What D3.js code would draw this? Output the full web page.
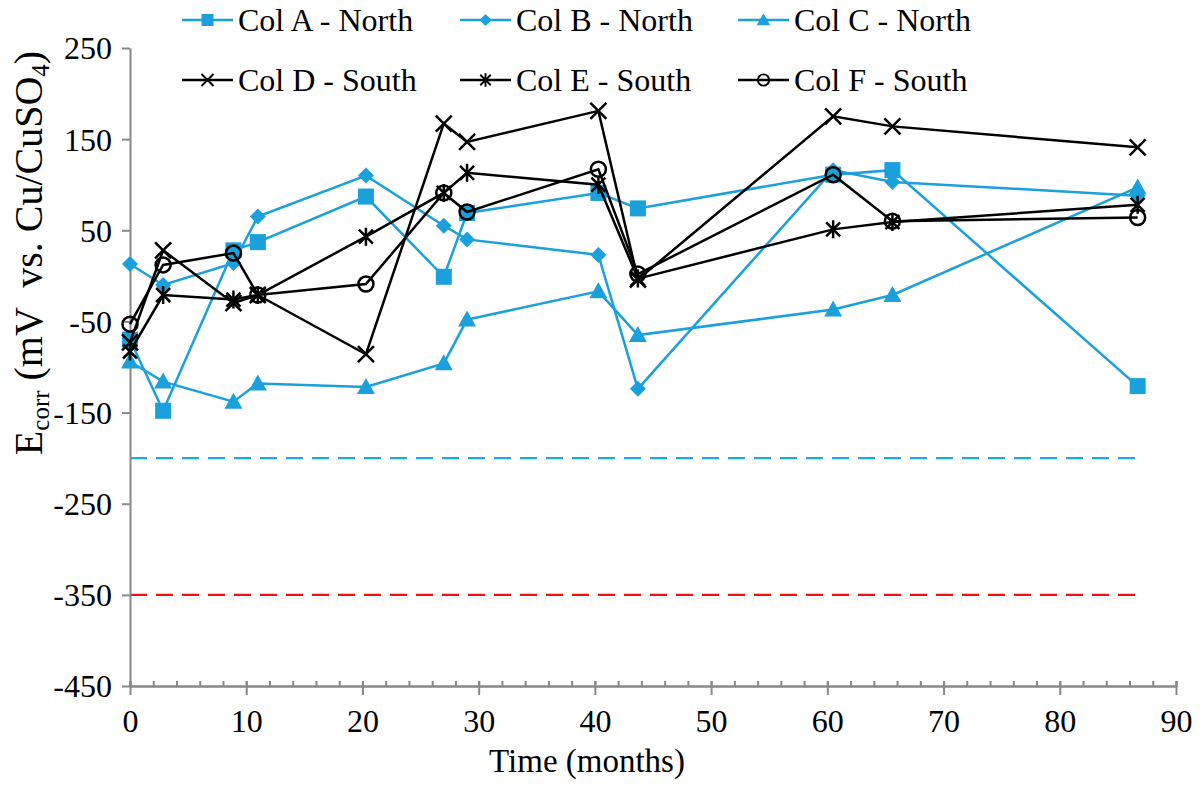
<!DOCTYPE html>
<html>
<head>
<meta charset="utf-8">
<script src="https://cdn.jsdelivr.net/npm/d3@7"></script>
<style>
  body { margin: 0; background: #fff; }
  svg { font-family: "Liberation Serif", "Times New Roman", serif; }
</style>
</head>
<body>
<svg id="chart" width="1203" height="804"></svg>
<script>
// data
var months = [0, 2.85, 8.9, 11, 20.3, 27, 29, 40.3, 43.7, 60.5, 65.6, 86.7];
var colA = [-70, -148, 28, 37, 87, -1, 69, 91, 74, 111, 116, -121];
var colB = [13, -10, 14, 65, 110, 55, 40, 23, -124, 116, 103, 88];
var colC = [-94, -116, -138, -118, -122, -96, -48, -17, -65, -37, -21, 97];
var colD = [-73, 28, -30, -21, -86, 167, 147, 181, -4, 175, 164, 141];
var colE = [-83, -21, -26, -21, 43, 91, 113, 100, -3, 51, 59, 78];
var colF = [-53, 12, 25, -21, -9, 91, 70, 117, 2, 111, 60, 64];
var seriesNames = ["Col A - North", "Col B - North", "Col C - North",
                   "Col D - South", "Col E - South", "Col F - South"];
var xTicks = [0, 10, 20, 30, 40, 50, 60, 70, 80, 90];
var yTicks = [250, 150, 50, -50, -150, -250, -350, -450];
var refLevels = [-200, -350];
var refEnd = 87;

var blue = "#1aa0db", black = "#000", gray = "#888";
var series = [
  {name: seriesNames[0], vals: colA, color: blue, marker: "square"},
  {name: seriesNames[1], vals: colB, color: blue, marker: "diamond"},
  {name: seriesNames[2], vals: colC, color: blue, marker: "triangle"},
  {name: seriesNames[3], vals: colD, color: black, marker: "x"},
  {name: seriesNames[4], vals: colE, color: black, marker: "star"},
  {name: seriesNames[5], vals: colF, color: black, marker: "circle"}
];

var svg = d3.select("#chart");
var x = d3.scaleLinear().domain([0, 90]).range([130, 1176]);
var y = d3.scaleLinear().domain([-450, 250]).range([686, 48]);

// reference dashed lines
svg.selectAll("line.ref").data(refLevels).enter().append("line")
  .attr("x1", x(0)).attr("x2", x(refEnd))
  .attr("y1", function(d) { return y(d); }).attr("y2", function(d) { return y(d); })
  .attr("stroke", function(d, i) { return i == 0 ? "#1aa9e6" : "#f01010"; })
  .attr("stroke-width", 2.2).attr("stroke-dasharray", "17,9");

// axes
var plain = function(d) { return String(d); };
var gx = svg.append("g").attr("transform", "translate(0," + y(-450) + ")");
gx.call(d3.axisBottom(x).tickValues(d3.range(0, 91, 2)).tickSize(-5).tickFormat(""));
var gx2 = svg.append("g").attr("transform", "translate(0," + y(-450) + ")");
gx2.call(d3.axisBottom(x).tickValues(xTicks).tickFormat(plain)
  .tickSizeInner(9).tickSizeOuter(0).tickPadding(14));
gx2.selectAll(".tick line").attr("y1", -5);

var gy = svg.append("g").attr("transform", "translate(" + x(0) + ",0)");
gy.call(d3.axisLeft(y).tickValues(yTicks).tickFormat(plain)
  .tickSizeInner(8).tickSizeOuter(0).tickPadding(10));

svg.selectAll(".domain, .tick line").attr("stroke", gray).attr("stroke-width", 2);
svg.selectAll(".tick text").attr("font-size", 32).attr("fill", "#000")
  .attr("font-family", "Liberation Serif, Times New Roman, serif");
gy.selectAll(".tick text").attr("dy", "0.34em");

// axis titles
svg.append("text").attr("x", 587).attr("y", 772).attr("text-anchor", "middle")
  .attr("font-size", 33).text("Time (months)");

var yt = svg.append("text").attr("transform", "translate(42,253) rotate(-90)")
  .attr("text-anchor", "middle").attr("font-size", 40).style("white-space", "pre");
yt.append("tspan").text("E");
yt.append("tspan").attr("font-size", 25).attr("dy", 7).text("corr");
yt.append("tspan").attr("dy", -7).text(" (mV  vs. Cu/CuSO");
yt.append("tspan").attr("font-size", 25).attr("dy", 7).text("4");
yt.append("tspan").attr("dy", -7).text(")");

// markers
function drawMarker(g, type, color) {
  if (type == "square") {
    g.append("rect").attr("x", -8).attr("y", -8).attr("width", 16).attr("height", 16)
      .attr("fill", color);
  } else if (type == "diamond") {
    g.append("path").attr("d", "M0,-8L8,0L0,8L-8,0Z").attr("fill", color);
  } else if (type == "triangle") {
    g.append("path").attr("d", "M0,-9L9,7L-9,7Z").attr("fill", color);
  } else if (type == "x") {
    g.append("path").attr("d", "M-8,-8L8,8M-8,8L8,-8").attr("stroke", color)
      .attr("stroke-width", 2.5).attr("fill", "none");
  } else if (type == "star") {
    g.append("path").attr("d", "M-7,-7L7,7M-7,7L7,-7M0,-9L0,9").attr("stroke", color)
      .attr("stroke-width", 2.5).attr("fill", "none");
  } else if (type == "circle") {
    g.append("circle").attr("r", 7.5).attr("fill", "none").attr("stroke", color)
      .attr("stroke-width", 2.5);
  }
}

var line = d3.line()
  .x(function(d) { return x(d[0]); })
  .y(function(d) { return y(d[1]); });

series.forEach(function(s) {
  var pts = months.map(function(m, i) { return [m, s.vals[i]]; });
  var g = svg.append("g");
  g.append("path").attr("d", line(pts)).attr("fill", "none")
    .attr("stroke", s.color).attr("stroke-width", 2.5);
  g.selectAll("g.pt").data(pts).enter().append("g")
    .attr("transform", function(d) { return "translate(" + x(d[0]) + "," + y(d[1]) + ")"; })
    .each(function() { drawMarker(d3.select(this), s.marker, s.color); });
});

// legend
var legend = svg.append("g");
series.forEach(function(s, i) {
  var lx = 182 + (i % 3) * 278, ly = 20 + Math.floor(i / 3) * 60;
  var g = legend.append("g").attr("transform", "translate(" + lx + "," + ly + ")");
  g.append("line").attr("x1", 0).attr("x2", 51).attr("stroke", s.color).attr("stroke-width", 2.5);
  var m = g.append("g").attr("transform", "translate(25.5,0) scale(0.75)");
  drawMarker(m, s.marker, s.color);
  g.append("text").attr("x", 56).attr("dy", "0.34em").attr("font-size", 32).text(s.name);
});
</script>
</body>
</html>
